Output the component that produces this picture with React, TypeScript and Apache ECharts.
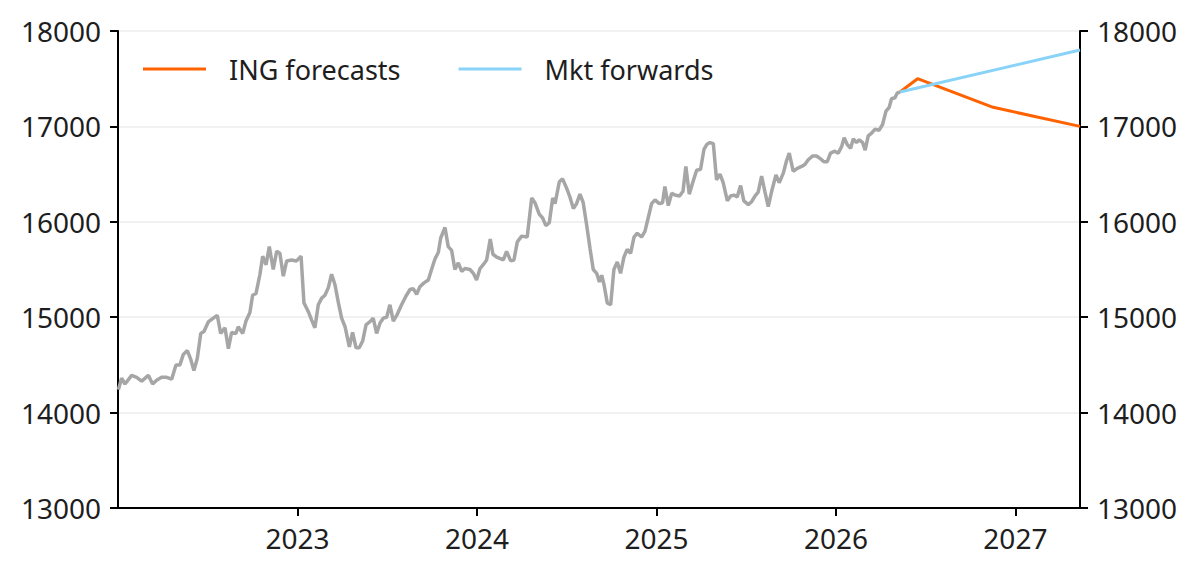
import React, { useEffect, useRef } from "react";
import * as echarts from "echarts";

// Time positions as decimal years
const histYears = [
  2022.002, 2022.02, 2022.039, 2022.076, 2022.104, 2022.132, 2022.169, 2022.193, 2022.215, 2022.243,
  2022.271, 2022.299, 2022.323, 2022.345, 2022.364, 2022.386, 2022.405, 2022.423, 2022.442, 2022.461,
  2022.479, 2022.503, 2022.531, 2022.553, 2022.572, 2022.596, 2022.615, 2022.633, 2022.657, 2022.67,
  2022.695, 2022.713, 2022.735, 2022.75, 2022.769, 2022.791, 2022.806, 2022.825, 2022.843, 2022.865,
  2022.884, 2022.902, 2022.921, 2022.94, 2022.967, 2022.995, 2023.02, 2023.036, 2023.06, 2023.079,
  2023.097, 2023.116, 2023.135, 2023.153, 2023.172, 2023.19, 2023.209, 2023.227, 2023.246, 2023.265,
  2023.289, 2023.307, 2023.326, 2023.344, 2023.363, 2023.382, 2023.408, 2023.422, 2023.441, 2023.46,
  2023.478, 2023.497, 2023.515, 2023.534, 2023.556, 2023.58, 2023.604, 2023.627, 2023.645, 2023.664,
  2023.682, 2023.705, 2023.729, 2023.747, 2023.766, 2023.785, 2023.798, 2023.822, 2023.84, 2023.859,
  2023.877, 2023.896, 2023.915, 2023.933, 2023.961, 2023.98, 2023.998, 2024.017, 2024.035, 2024.054,
  2024.074, 2024.089, 2024.11, 2024.147, 2024.165, 2024.188, 2024.206, 2024.225, 2024.249, 2024.28,
  2024.305, 2024.323, 2024.347, 2024.366, 2024.384, 2024.403, 2024.422, 2024.435, 2024.459, 2024.477,
  2024.5, 2024.518, 2024.537, 2024.555, 2024.574, 2024.592, 2024.611, 2024.63, 2024.648, 2024.667,
  2024.682, 2024.695, 2024.708, 2024.726, 2024.745, 2024.763, 2024.782, 2024.8, 2024.819, 2024.837,
  2024.856, 2024.875, 2024.893, 2024.917, 2024.936, 2024.954, 2024.973, 2024.992, 2025.016, 2025.034,
  2025.047, 2025.066, 2025.085, 2025.103, 2025.129, 2025.148, 2025.164, 2025.183, 2025.202, 2025.224,
  2025.246, 2025.265, 2025.28, 2025.298, 2025.317, 2025.335, 2025.354, 2025.372, 2025.395, 2025.413,
  2025.432, 2025.45, 2025.469, 2025.487, 2025.512, 2025.53, 2025.549, 2025.567, 2025.586, 2025.604,
  2025.623, 2025.642, 2025.666, 2025.684, 2025.707, 2025.725, 2025.74, 2025.762, 2025.785, 2025.809,
  2025.827, 2025.846, 2025.87, 2025.892, 2025.915, 2025.933, 2025.952, 2025.97, 2025.994, 2026.013,
  2026.032, 2026.046, 2026.063, 2026.082, 2026.097, 2026.115, 2026.13, 2026.149, 2026.163, 2026.18,
  2026.199, 2026.217, 2026.241, 2026.26, 2026.279, 2026.297, 2026.31, 2026.329, 2026.342, 2026.357,
];
const histValues = [
  14240, 14360, 14300, 14390, 14370, 14330, 14390, 14300, 14340, 14370,
  14370, 14350, 14500, 14500, 14610, 14650, 14560, 14440, 14570, 14830,
  14850, 14950, 14990, 15020, 14830, 14890, 14670, 14840, 14830, 14900,
  14830, 14960, 15050, 15230, 15250, 15450, 15640, 15550, 15740, 15500,
  15690, 15670, 15430, 15590, 15600, 15590, 15640, 15150, 15060, 14970,
  14890, 15130, 15200, 15230, 15310, 15450, 15340, 15160, 14990, 14900,
  14690, 14840, 14680, 14680, 14750, 14920, 14960, 14990, 14830, 14940,
  14990, 15000, 15130, 14960, 15030, 15130, 15220, 15290, 15300, 15240,
  15320, 15360, 15390, 15500, 15610, 15680, 15830, 15940, 15740, 15700,
  15500, 15570, 15480, 15510, 15500, 15460, 15390, 15510, 15550, 15600,
  15820, 15660, 15630, 15600, 15690, 15590, 15600, 15790, 15850, 15840,
  16250, 16200, 16080, 16040, 15960, 15990, 16250, 16190, 16420, 16450,
  16350, 16260, 16140, 16190, 16290, 16200, 15970, 15720, 15500, 15460,
  15370, 15440, 15340, 15150, 15130, 15500, 15580, 15460, 15630, 15710,
  15670, 15840, 15880, 15840, 15900, 16040, 16190, 16230, 16190, 16200,
  16370, 16170, 16300, 16280, 16270, 16320, 16580, 16290, 16410, 16540,
  16550, 16760, 16810, 16830, 16820, 16440, 16500, 16410, 16220, 16270,
  16280, 16260, 16380, 16220, 16180, 16210, 16270, 16310, 16480, 16320,
  16160, 16320, 16490, 16410, 16510, 16640, 16720, 16530, 16560, 16580,
  16600, 16650, 16690, 16690, 16660, 16630, 16630, 16720, 16740, 16720,
  16790, 16880, 16810, 16770, 16870, 16830, 16860, 16830, 16750, 16900,
  16930, 16970, 16960, 17020, 17160, 17200, 17290, 17300, 17350, 17360,
];

const forecastYears = [2026.357, 2026.455, 2026.876, 2027.36];
const forecastValues = [17360, 17500, 17200, 17000];

const forwardYears = [2026.357, 2027.36];
const forwardValues = [17360, 17800];

const yearTicks = [2023, 2024, 2025, 2026, 2027];
const seriesNames = ["ING forecasts", "Mkt forwards"];

const FONT = "'Noto Sans', 'DejaVu Sans', sans-serif";
const TEXT = "#1e1e1e";
const FS = 28;

export default function App() {
  const ref = useRef<HTMLDivElement>(null);

  useEffect(() => {
    document.body.style.margin = "0";
    if (!ref.current) return;
    const chart = echarts.init(ref.current, undefined, { renderer: "svg" });

    const yAxisBase = {
      type: "value",
      min: 13000,
      max: 18000,
      interval: 1000,
      axisLine: { show: true, lineStyle: { color: "#000", width: 2 } },
      axisTick: { show: true, length: 8, lineStyle: { color: "#000", width: 2 } },
      axisLabel: {
        color: TEXT,
        fontSize: FS,
        fontFamily: FONT,
        margin: 17,
        formatter: (v: number) => String(v),
      },
    };

    chart.setOption({
      animation: false,
      textStyle: { fontFamily: FONT },
      grid: { left: 118, right: 120, top: 31, bottom: 65, outerBoundsMode: "none", containLabel: false },
      legend: {
        data: seriesNames,
        left: 143,
        top: 53,
        padding: 0,
        icon: "rect",
        itemWidth: 63,
        itemHeight: 3,
        itemGap: 58,
        textStyle: {
          color: TEXT,
          fontSize: 27,
          fontFamily: FONT,
          lineHeight: 32,
          padding: [0, 0, 0, 18],
        },
      },
      xAxis: {
        type: "value",
        min: 2022,
        max: 2027.36,
        interval: 1,
        splitLine: { show: false },
        axisLine: { show: true, onZero: false, lineStyle: { color: "#000", width: 2 } },
        axisTick: {
          show: true,
          length: 8,
          customValues: yearTicks,
          lineStyle: { color: "#000", width: 2 },
        },
        axisLabel: {
          color: TEXT,
          fontSize: FS,
          fontFamily: FONT,
          margin: 16,
          customValues: yearTicks,
          formatter: (v: number) => String(Math.round(v)),
        },
      },
      yAxis: [
        {
          ...yAxisBase,
          position: "left",
          splitLine: { show: true, lineStyle: { color: "#ececec", width: 1.5 } },
        },
        {
          ...yAxisBase,
          position: "right",
          splitLine: { show: false },
        },
      ],
      series: [
        {
          name: "History",
          type: "line",
          data: histYears.map((x, i) => [x, histValues[i]]),
          showSymbol: false,
          lineStyle: { color: "#a6a6a6", width: 3.5 },
          itemStyle: { color: "#a6a6a6" },
          z: 2,
        },
        {
          name: seriesNames[0],
          type: "line",
          data: forecastYears.map((x, i) => [x, forecastValues[i]]),
          showSymbol: false,
          lineStyle: { color: "#ff6200", width: 3 },
          itemStyle: { color: "#ff6200" },
          z: 3,
        },
        {
          name: seriesNames[1],
          type: "line",
          data: forwardYears.map((x, i) => [x, forwardValues[i]]),
          showSymbol: false,
          lineStyle: { color: "#89d3f8", width: 3 },
          itemStyle: { color: "#89d3f8" },
          z: 4,
        },
      ],
    });

    return () => chart.dispose();
  }, []);

  return (
    <div
      ref={ref}
      style={{ position: "absolute", left: 0, top: 0, width: 1200, height: 573 }}
    />
  );
}
